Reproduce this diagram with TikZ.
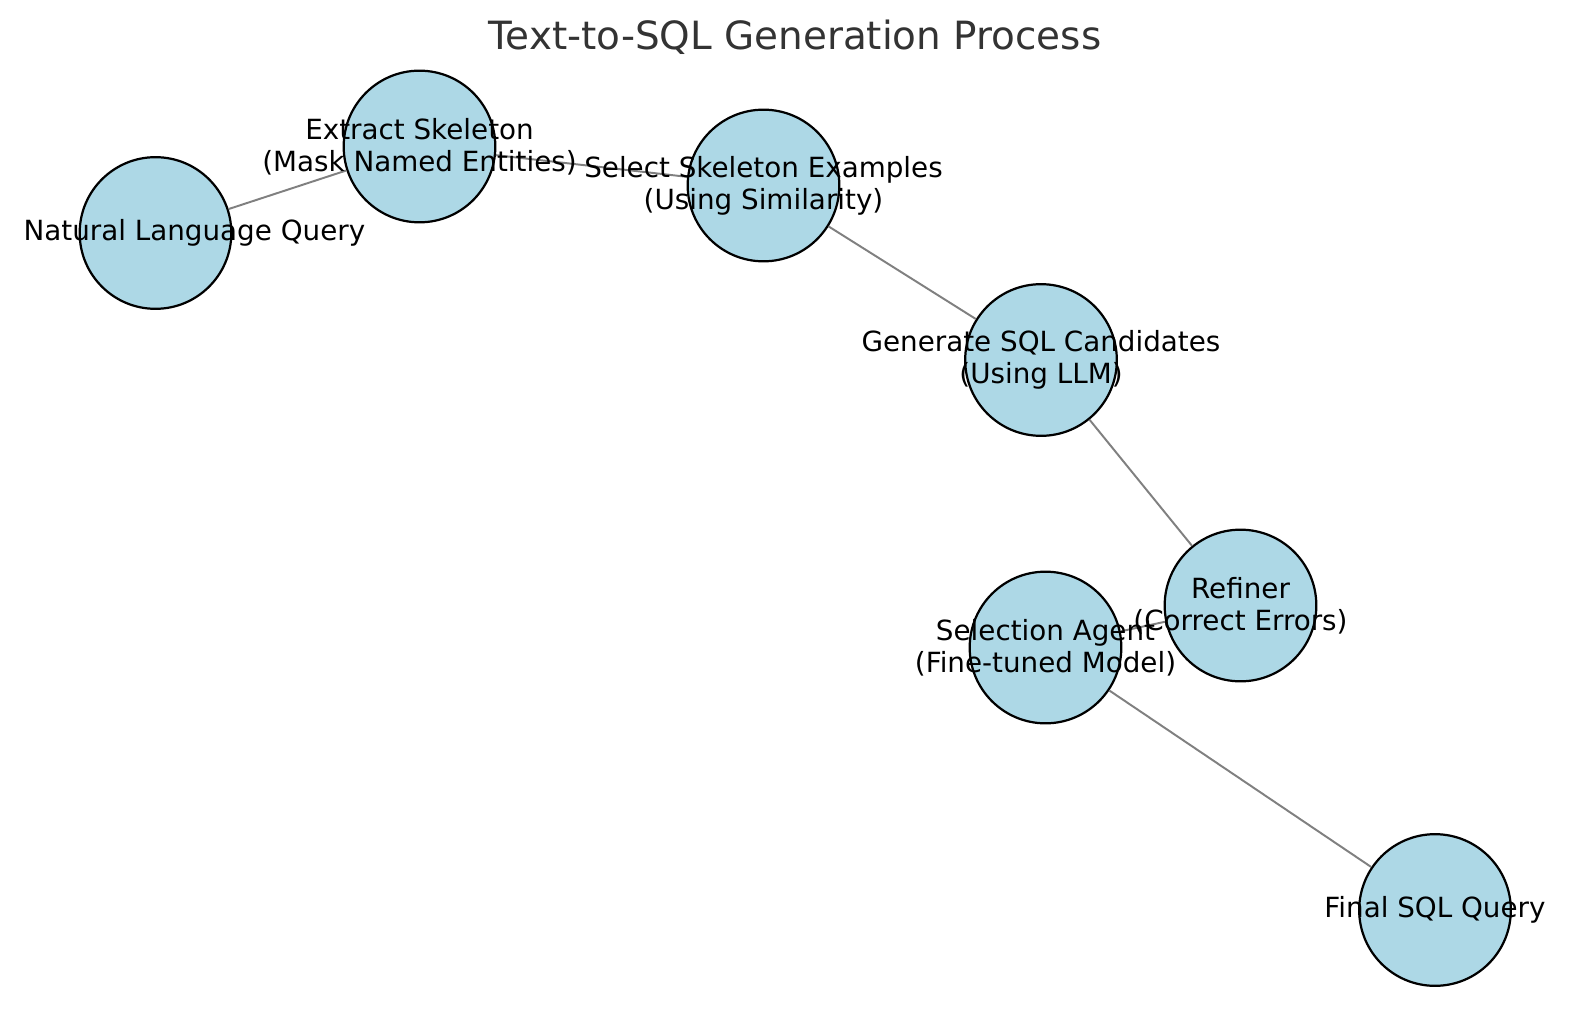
\documentclass[tikz,border=0pt]{standalone}
\usepackage{fontspec}
\setmainfont{DejaVu Sans}
\definecolor{nodefill}{HTML}{ADD8E6}
\definecolor{edgegray}{HTML}{808080}
\definecolor{titlegray}{HTML}{333333}
\tikzset{
  proc/.style={circle, draw=black, line width=0.8pt, fill=nodefill, minimum size=54.6pt, inner sep=0pt},
  link/.style={draw=edgegray, line width=0.7pt},
  lbl/.style={font=\fontsize{10}{11.5}\selectfont, align=center, inner sep=0pt, text=black},
  ttl/.style={font=\fontsize{14}{16}\selectfont, text=titlegray, inner sep=0pt}
}
\begin{document}
\begin{tikzpicture}[x=0.36pt, y=-0.36pt]
\useasboundingbox[fill=white] (0,0) rectangle (1589,1010);
\node[ttl, anchor=base] (title) at (795,50) {Text-to-SQL Generation Process};
% circles
\node[proc] (nl)  at (155.5,233) {};
\node[proc] (ext) at (419.5,146.5) {};
\node[proc] (sel) at (763.5,185.5) {};
\node[proc] (gen) at (1041,360) {};
\node[proc] (ref) at (1240.5,605.5) {};
\node[proc] (agt) at (1045.5,647.5) {};
\node[proc] (fin) at (1435,910) {};
% connectors
\draw[link] (nl) -- (ext);
\draw[link] (ext) -- (sel);
\draw[link] (sel) -- (gen);
\draw[link] (gen) -- (ref);
\draw[link] (ref) -- (agt);
\draw[link] (agt) -- (fin);
% labels
\node[lbl] (tnl)  at ([xshift=14pt]nl.center) {Natural Language Query};
\node[lbl] (text) at (ext.center) {Extract Skeleton\\(Mask Named Entities)};
\node[lbl] (tsel) at (sel.center) {Select Skeleton Examples\\(Using Similarity)};
\node[lbl] (tgen) at (gen.center) {Generate SQL Candidates\\(Using LLM)};
\node[lbl] (tref) at (ref.center) {Refiner\\(Correct Errors)};
\node[lbl] (tagt) at (agt.center) {Selection Agent\\(Fine-tuned Model)};
\node[lbl] (tfin) at (fin.center) {Final SQL Query};
\end{tikzpicture}
\end{document}
